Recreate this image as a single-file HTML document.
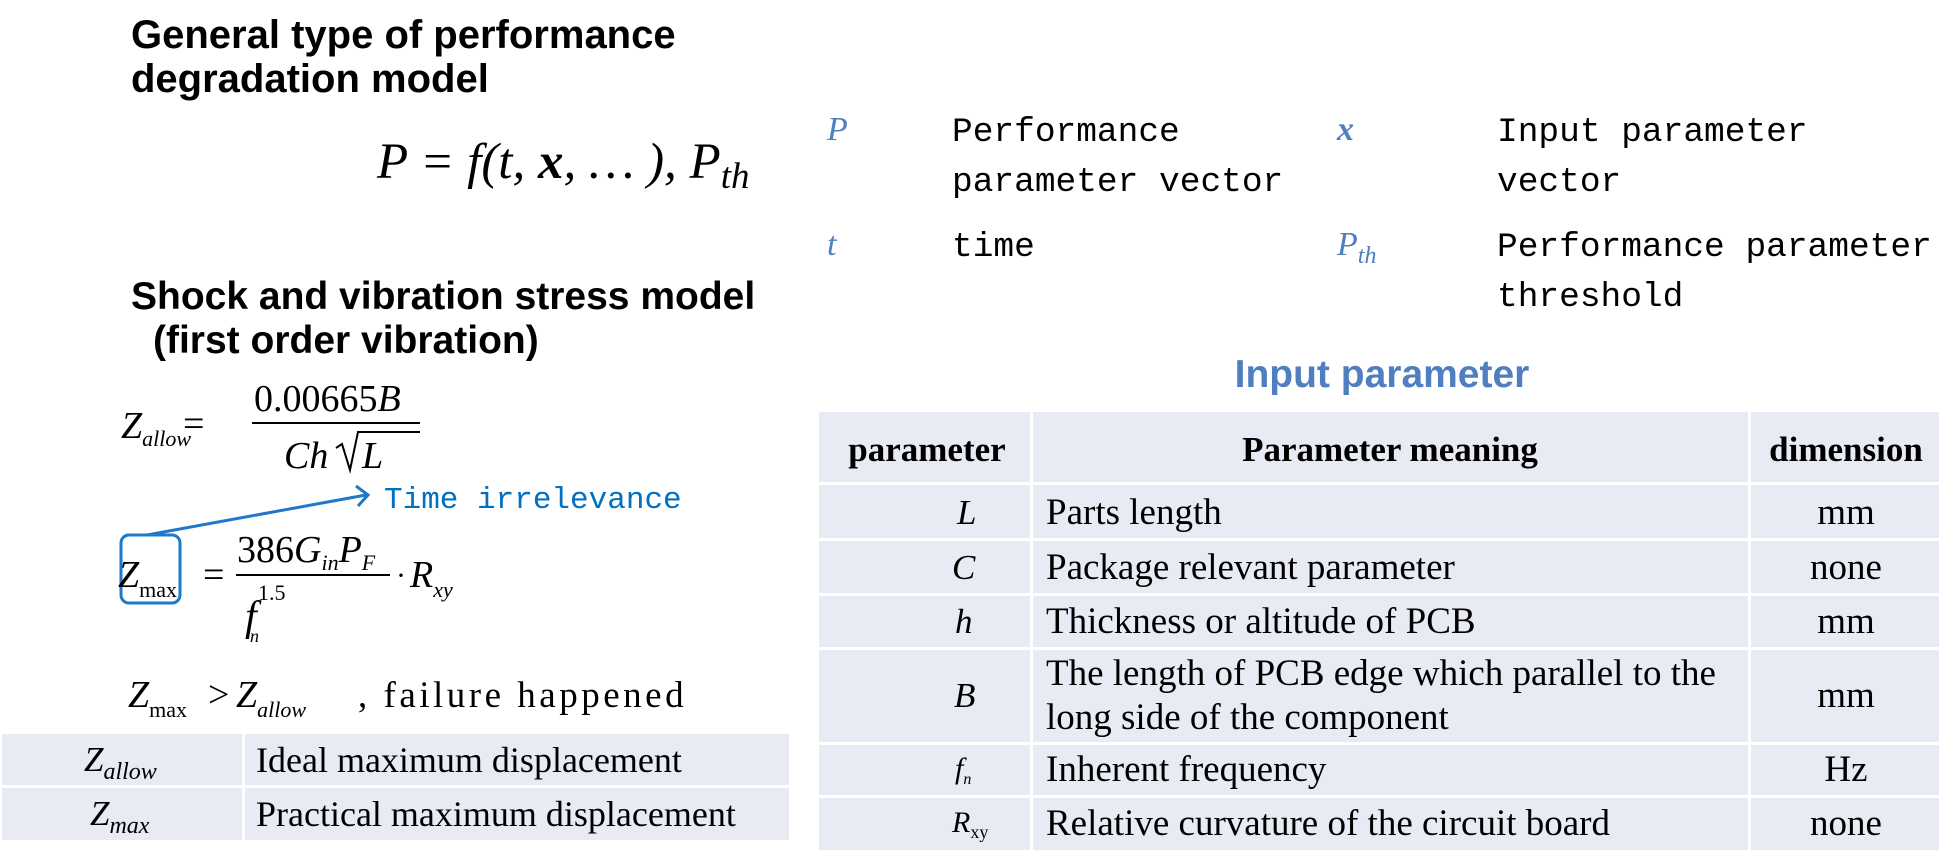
<!DOCTYPE html>
<html><head><meta charset="utf-8"><style>
html,body{margin:0;padding:0;background:#fff;}
svg{display:block}
.h{font-family:"Liberation Sans",sans-serif;font-weight:bold;font-size:40px;fill:#000}
.m{font-family:"Liberation Serif",serif;font-style:italic;fill:#000}
.r{font-family:"Liberation Serif",serif;fill:#000}
.mono{font-family:"Liberation Mono",monospace;font-size:34.5px;fill:#000}
.bl{fill:#4f7fbf}
</style></head><body>
<svg width="1945" height="865" viewBox="0 0 1945 865" xmlns="http://www.w3.org/2000/svg">
<text class="h" x="131" y="48">General type of performance</text>
<text class="h" x="131" y="92">degradation model</text>
<text class="m" x="377" y="178" font-size="51">P = f(t, <tspan font-weight="bold">x</tspan>, … ), P<tspan font-size="37" dy="10">th</tspan></text>
<text class="h" x="131" y="309" style="font-size:39px">Shock and vibration stress model</text>
<text class="h" x="153" y="353" style="font-size:39px">(first order vibration)</text>

<text class="m" x="121" y="438" font-size="38">Z<tspan font-size="22" dy="8">allow</tspan></text>
<text class="r" x="183" y="436" font-size="38">=</text>
<text class="r" x="254" y="411" font-size="38">0.00665<tspan font-style="italic">B</tspan></text>
<line x1="252" y1="423" x2="420" y2="423" stroke="#000" stroke-width="2"/>
<text class="m" x="284" y="468" font-size="38">Ch</text>
<path d="M336 448 L342 444 L350 470 L358 432 L420 432" stroke="#000" stroke-width="2" fill="none"/>
<text class="m" x="362" y="468" font-size="38">L</text>

<line x1="147" y1="535" x2="366" y2="495" stroke="#1f78c8" stroke-width="3"/>
<path d="M356 486 L368 495 L358 506" stroke="#1f78c8" stroke-width="3" fill="none"/>
<text x="384" y="508" font-family="'Liberation Mono',monospace" font-size="31" fill="#0070c0">Time irrelevance</text>
<rect x="121" y="535" width="59" height="68" rx="8" fill="none" stroke="#1f78c8" stroke-width="3"/>

<text class="m" x="118" y="587" font-size="38">Z<tspan font-style="normal" font-size="22" dy="10">max</tspan></text>
<text class="r" x="203" y="587" font-size="38">=</text>
<text class="r" x="237" y="562" font-size="38">386<tspan font-style="italic">G</tspan><tspan font-style="italic" font-size="22" dy="8">in</tspan><tspan font-style="italic" dy="-8">P</tspan><tspan font-style="italic" font-size="22" dy="8">F</tspan></text>
<line x1="236" y1="575" x2="390" y2="575" stroke="#000" stroke-width="2"/>
<text class="m" x="245" y="630" font-size="42">f</text>
<text class="r" x="258" y="600" font-size="22">1.5</text>
<text class="m" x="250" y="642" font-size="18">n</text>
<text class="r" x="396" y="585" font-size="30">·</text>
<text class="m" x="410" y="587" font-size="38">R<tspan font-size="22" dy="10">xy</tspan></text>

<text class="m" x="128" y="707" font-size="38">Z<tspan font-style="normal" font-size="22" dy="10">max</tspan></text>
<text class="r" x="208" y="707" font-size="38">&gt;</text>
<text class="m" x="236" y="707" font-size="38">Z<tspan font-size="22" dy="10">allow</tspan></text>
<text class="r" x="358" y="707" font-size="37" letter-spacing="3.5">, failure happened</text>

<rect x="2" y="734" width="240" height="51" fill="#e8eaf4"/>
<rect x="245" y="734" width="544" height="51" fill="#e8eaf4"/>
<rect x="2" y="788" width="240" height="52" fill="#e8eaf4"/>
<rect x="245" y="788" width="544" height="52" fill="#e8eaf4"/>
<text class="m" x="84" y="771" font-size="35">Z<tspan font-size="24" dy="8">allow</tspan></text>
<text class="m" x="90" y="825" font-size="35">Z<tspan font-size="24" dy="8">max</tspan></text>
<text class="r" x="256" y="772" font-size="36">Ideal maximum displacement</text>
<text class="r" x="256" y="826" font-size="36">Practical maximum displacement</text>

<text class="m bl" x="827" y="140" font-size="34">P</text>
<text class="mono" x="952" y="141">Performance</text>
<text class="mono" x="952" y="191">parameter vector</text>
<text class="m bl" x="1337" y="140" font-size="34" font-weight="bold">x</text>
<text class="mono" x="1497" y="141">Input parameter</text>
<text class="mono" x="1497" y="191">vector</text>
<text class="m bl" x="827" y="255" font-size="34">t</text>
<text class="mono" x="952" y="256">time</text>
<text class="m bl" x="1337" y="255" font-size="34">P<tspan font-size="24" dy="8">th</tspan></text>
<text class="mono" x="1497" y="256">Performance parameter</text>
<text class="mono" x="1497" y="306">threshold</text>

<text x="1382" y="387" text-anchor="middle" font-family="'Liberation Sans',sans-serif" font-weight="bold" font-size="39" fill="#4f7fbf">Input parameter</text>

<g fill="#e8eaf4">
<rect x="819" y="412" width="211" height="70"/><rect x="1033" y="412" width="715" height="70"/><rect x="1751" y="412" width="188" height="70"/>
<rect x="819" y="485" width="211" height="53"/><rect x="1033" y="485" width="715" height="53"/><rect x="1751" y="485" width="188" height="53"/>
<rect x="819" y="541" width="211" height="52"/><rect x="1033" y="541" width="715" height="52"/><rect x="1751" y="541" width="188" height="52"/>
<rect x="819" y="596" width="211" height="51"/><rect x="1033" y="596" width="715" height="51"/><rect x="1751" y="596" width="188" height="51"/>
<rect x="819" y="650" width="211" height="92"/><rect x="1033" y="650" width="715" height="92"/><rect x="1751" y="650" width="188" height="92"/>
<rect x="819" y="745" width="211" height="50"/><rect x="1033" y="745" width="715" height="50"/><rect x="1751" y="745" width="188" height="50"/>
<rect x="819" y="798" width="211" height="52"/><rect x="1033" y="798" width="715" height="52"/><rect x="1751" y="798" width="188" height="52"/>
</g>
<g class="r" font-size="37">
<text x="927" y="461" text-anchor="middle" font-weight="bold" font-size="35">parameter</text>
<text x="1390" y="461" text-anchor="middle" font-weight="bold" font-size="35">Parameter meaning</text>
<text x="1846" y="461" text-anchor="middle" font-weight="bold" font-size="35">dimension</text>
<text x="1046" y="524">Parts length</text>
<text x="1046" y="579">Package relevant parameter</text>
<text x="1046" y="633">Thickness or altitude of PCB</text>
<text x="1046" y="685">The length of PCB edge which parallel to the</text>
<text x="1046" y="729">long side of the component</text>
<text x="1046" y="781">Inherent frequency</text>
<text x="1046" y="835">Relative curvature of the circuit board</text>
<text x="1846" y="524" text-anchor="middle">mm</text>
<text x="1846" y="579" text-anchor="middle">none</text>
<text x="1846" y="633" text-anchor="middle">mm</text>
<text x="1846" y="707" text-anchor="middle">mm</text>
<text x="1846" y="781" text-anchor="middle">Hz</text>
<text x="1846" y="835" text-anchor="middle">none</text>
</g>
<g class="m" font-size="35">
<text x="957" y="524">L</text>
<text x="952" y="579">C</text>
<text x="955" y="633">h</text>
<text x="954" y="707">B</text>
<text x="955" y="778" font-size="30">f<tspan font-size="16" dy="6">n</tspan></text>
<text x="952" y="832" font-size="30">R<tspan font-style="normal" font-size="18" dy="6">xy</tspan></text>
</g>
</svg>
</body></html>
